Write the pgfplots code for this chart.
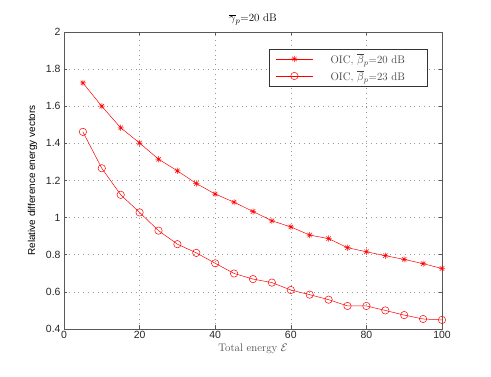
\documentclass[border=0pt]{standalone}
\usepackage{fontspec}
\usepackage{pgfplots}
\pgfplotsset{compat=1.18}
\newfontfamily\lsans{Liberation Sans}
\pgfdeclareplotmark{mstar}{%
  \pgfpathmoveto{\pgfqpoint{-\pgfplotmarksize}{0pt}}\pgfpathlineto{\pgfqpoint{\pgfplotmarksize}{0pt}}%
  \pgfpathmoveto{\pgfqpoint{0pt}{-\pgfplotmarksize}}\pgfpathlineto{\pgfqpoint{0pt}{\pgfplotmarksize}}%
  \pgfpathmoveto{\pgfqpoint{-0.707\pgfplotmarksize}{-0.707\pgfplotmarksize}}\pgfpathlineto{\pgfqpoint{0.707\pgfplotmarksize}{0.707\pgfplotmarksize}}%
  \pgfpathmoveto{\pgfqpoint{-0.707\pgfplotmarksize}{0.707\pgfplotmarksize}}\pgfpathlineto{\pgfqpoint{0.707\pgfplotmarksize}{-0.707\pgfplotmarksize}}%
  \pgfusepathqstroke}
\definecolor{axgray}{gray}{0.35}
\newcommand{\legtext}[1]{\makebox[114.4bp][l]{\hspace{17.7bp}#1}}
\begin{document}
\begin{tikzpicture}
\path[use as bounding box] (0,0) rectangle (491bp,377bp);
\begin{axis}[
  at={(64bp,48bp)}, anchor=south west,
  scale only axis, width=378bp, height=297bp,
  xmin=0, xmax=100, ymin=0.4, ymax=2,
  xtick={0,20,...,100}, ytick={0.4,0.6,...,2.01},
  yticklabel style={/pgf/number format/fixed},
  /pgf/number format/assume math mode=true,
  ticklabel style={font=\lsans\fontsize{10.5}{11}\selectfont, text=black!85},
  xticklabel style={yshift=1bp},
  tick align=inside, tick style={axgray, line width=0.5bp},
  major tick length=3.5bp,
  axis line style={axgray, line width=0.7bp},
  grid=major, grid style={dash pattern=on 0.8bp off 4bp, gray!80, line width=0.6bp},
  title={$\overline{\gamma}_p$=20 dB},
  title style={font=\fontsize{11}{12}\selectfont, yshift=-3bp},
  xlabel={Total energy $\mathcal{E}$},
  xlabel style={font=\fontsize{11}{12}\selectfont, text=black!70, yshift=2bp},
  ylabel={Relative difference energy vectors},
  ylabel style={font=\lsans\fontsize{10}{11}\selectfont, yshift=2bp},
  legend style={at={(0.962,0.9438)}, anchor=north east, draw=black!80, line width=0.6bp,
    font=\fontsize{11}{12}\selectfont, text=black!75, row sep=0pt, column sep=0pt,
    inner xsep=0pt, inner ysep=1.5bp, nodes={inner sep=0pt}},
  legend cell align=left,
  legend image code/.code={%
    \path[draw=none, fill=none] (-7bp,-8.5bp) rectangle (36.6bp,8.5bp);
    \draw[mark repeat=2,mark phase=2] plot coordinates {(0bp,0bp) (18.3bp,0bp) (36.6bp,0bp)};},
]
\addplot[red, line width=0.5bp, mark=mstar, mark size=3.1bp] coordinates {
(5,1.726) (10,1.600) (15,1.484) (20,1.402) (25,1.315) (30,1.252) (35,1.184)
(40,1.127) (45,1.083) (50,1.033) (55,0.983) (60,0.950) (65,0.906) (70,0.887)
(75,0.838) (80,0.816) (85,0.795) (90,0.775) (95,0.752) (100,0.726)};
\addlegendentry{\legtext{OIC, $\overline{\beta}_p$=20 dB}}
\addplot[red, line width=0.5bp, mark=o, mark size=3.7bp] coordinates {
(5,1.462) (10,1.266) (15,1.123) (20,1.028) (25,0.930) (30,0.857) (35,0.810)
(40,0.754) (45,0.699) (50,0.669) (55,0.650) (60,0.610) (65,0.585) (70,0.558)
(75,0.524) (80,0.524) (85,0.500) (90,0.475) (95,0.454) (100,0.449)};
\addlegendentry{\legtext{OIC, $\overline{\beta}_p$=23 dB}}
\end{axis}
\end{tikzpicture}
\end{document}
